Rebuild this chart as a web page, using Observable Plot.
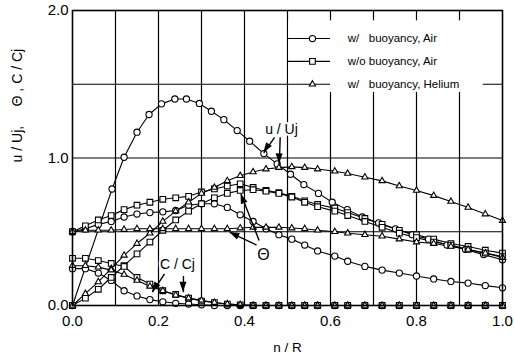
<!DOCTYPE html>
<html>
<head>
<meta charset="utf-8">
<script src="https://cdn.jsdelivr.net/npm/d3@7"></script>
<script src="https://cdn.jsdelivr.net/npm/@observablehq/plot@0.6"></script>
<style>
  body { margin: 0; background: #fff; }
  #chart { position: absolute; left: 0; top: 0; }
</style>
</head>
<body>
<div id="chart"></div>
<script>
// Radial positions n/R shared by most profiles
const nR = [0, 0.03, 0.06, 0.09, 0.12, 0.15, 0.18, 0.21, 0.24, 0.27, 0.30, 0.33, 0.36, 0.39, 0.42,
            0.45, 0.48, 0.51, 0.54, 0.57, 0.61, 0.64, 0.68, 0.72, 0.76, 0.80, 0.84, 0.88, 0.92, 0.96, 1.0];

// w/ buoyancy, Air (circles)
const airBuoyU_nR = [0, 0.092, 0.12, 0.15, 0.178, 0.207, 0.238, 0.265, 0.295, 0.323, 0.352, 0.383, 0.412, 0.445,
                     0.476, 0.507, 0.538, 0.572, 0.604, 0.639, 0.674, 0.712, 0.751, 0.79, 0.828, 0.871, 0.914, 0.956, 1.0];
const airBuoyU = [0, 0.79, 1.005, 1.175, 1.295, 1.367, 1.40, 1.40, 1.37, 1.317, 1.26, 1.186, 1.114, 1.03,
                  0.96, 0.89, 0.82, 0.76, 0.70, 0.65, 0.60, 0.56, 0.52, 0.48, 0.45, 0.41, 0.38, 0.345, 0.31];
const airBuoyTheta = [0.5, 0.52, 0.55, 0.57, 0.60, 0.62, 0.63, 0.635, 0.644, 0.68, 0.69, 0.69, 0.665, 0.615, 0.57,
                      0.52, 0.48, 0.45, 0.41, 0.37, 0.335, 0.30, 0.265, 0.24, 0.22, 0.20, 0.18, 0.163, 0.152, 0.135, 0.12];
const airBuoyC = [0.25, 0.25, 0.22, 0.17, 0.10, 0.065, 0.04, 0.025, 0.015, 0.01, 0.005, 0, 0, 0, 0,
                  0, 0, 0, 0, 0, 0, 0, 0, 0, 0, 0, 0, 0, 0, 0, 0];

// w/o buoyancy, Air (squares)
const airNoBuoyU = [0.5, 0.54, 0.58, 0.61, 0.65, 0.68, 0.70, 0.72, 0.73, 0.74, 0.77, 0.79, 0.81, 0.825, 0.80,
                    0.78, 0.765, 0.74, 0.71, 0.685, 0.66, 0.63, 0.59, 0.55, 0.51, 0.48, 0.45, 0.42, 0.40, 0.375, 0.355];
const airNoBuoyTheta = [0, 0.05, 0.11, 0.19, 0.27, 0.35, 0.43, 0.51, 0.58, 0.64, 0.69, 0.73, 0.76, 0.78, 0.785,
                        0.775, 0.76, 0.735, 0.70, 0.67, 0.64, 0.61, 0.57, 0.53, 0.49, 0.46, 0.43, 0.41, 0.38, 0.355, 0.332];
const airNoBuoyC = [0.32, 0.32, 0.305, 0.285, 0.265, 0.19, 0.145, 0.10, 0.075, 0.05, 0.03, 0.02, 0.01, 0.005, 0,
                    0, 0, 0, 0, 0, 0, 0, 0, 0, 0, 0, 0, 0, 0, 0, 0];

// w/ buoyancy, Helium (triangles)
const heliumU = [0, 0.08, 0.16, 0.25, 0.34, 0.42, 0.49, 0.57, 0.64, 0.70, 0.76, 0.80, 0.845, 0.88, 0.905,
                 0.925, 0.935, 0.94, 0.935, 0.925, 0.91, 0.895, 0.87, 0.845, 0.81, 0.78, 0.745, 0.705, 0.665, 0.62, 0.576];
const heliumTheta = [0.5, 0.51, 0.51, 0.51, 0.515, 0.52, 0.52, 0.52, 0.52, 0.52, 0.52, 0.52, 0.52, 0.525, 0.53,
                     0.53, 0.53, 0.525, 0.52, 0.51, 0.50, 0.49, 0.48, 0.47, 0.45, 0.43, 0.42, 0.40, 0.38, 0.355, 0.325];
const heliumC = [0.27, 0.27, 0.26, 0.24, 0.21, 0.17, 0.13, 0.10, 0.07, 0.05, 0.035, 0.02, 0.01, 0.005, 0,
                 0, 0, 0, 0, 0, 0, 0, 0, 0, 0, 0, 0, 0, 0, 0, 0];

// Axes
const xTicks = [0, 0.2, 0.4, 0.6, 0.8, 1.0];
const yTicks = [0, 1.0, 2.0];
const xGrid = [0.1, 0.2, 0.3, 0.4, 0.5, 0.6, 0.7, 0.8, 0.9];
const yGrid = [0.5, 1.0, 1.5];

// Legend entries
const legendNames = ["w/\u00a0\u00a0 buoyancy, Air", "w/o buoyancy, Air", "w/\u00a0\u00a0 buoyancy, Helium"];
const legendShapes = ["circle", "square", "triangle"];
const legendY = [1.81, 1.655, 1.5];

// Annotations: label and arrows (start -> tip, in data units)
const notes = [
  {text: "u / Uj", x: 0.486, y: 1.19, size: 14},
  {text: "\u0398", x: 0.444, y: 0.346, size: 16},
  {text: "C / Cj", x: 0.244, y: 0.278, size: 14}
];
const arrows = [
  {x1: 0.47, y1: 1.14, x2: 0.445, y2: 1.035},
  {x1: 0.483, y1: 1.14, x2: 0.481, y2: 0.96},
  {x1: 0.434, y1: 0.44, x2: 0.392, y2: 0.755},
  {x1: 0.428, y1: 0.41, x2: 0.366, y2: 0.495},
  {x1: 0.214, y1: 0.215, x2: 0.186, y2: 0.09},
  {x1: 0.258, y1: 0.2, x2: 0.258, y2: 0.09}
];

const series = [
  {name: "airBuoyU", shape: "circle", x: airBuoyU_nR, y: airBuoyU},
  {name: "airBuoyTheta", shape: "circle", x: nR, y: airBuoyTheta},
  {name: "airBuoyC", shape: "circle", x: nR, y: airBuoyC},
  {name: "airNoBuoyU", shape: "square", x: nR, y: airNoBuoyU},
  {name: "airNoBuoyTheta", shape: "square", x: nR, y: airNoBuoyTheta},
  {name: "airNoBuoyC", shape: "square", x: nR, y: airNoBuoyC},
  {name: "heliumU", shape: "triangle", x: nR, y: heliumU},
  {name: "heliumTheta", shape: "triangle", x: nR, y: heliumTheta},
  {name: "heliumC", shape: "triangle", x: nR, y: heliumC}
];
const rows = series.flatMap(s => s.x.map((x, i) => ({x, y: s.y[i], series: s.name, shape: s.shape})));

const legend = legendNames.map((label, i) => ({
  label, shape: legendShapes[i], y: legendY[i], x1: 0.5, x2: 0.6, xm: 0.558, tx: 0.64
}));
const legendBox = [{x1: 0.503, x2: 0.955, y1: 1.445, y2: 1.93}];

// marker radius per symbol (triangles are drawn smaller)
const markerR = {circle: 3.1, square: 3.2, triangle: 2.3};

const font = "'Liberation Sans', Arial, Helvetica, sans-serif";

const dotsFor = (data, shape, x) => Plot.dot(data.filter(d => d.shape === shape), {
  x, y: "y", symbol: () => shape, r: markerR[shape], fill: "white", stroke: "black", strokeWidth: 1.1
});

const plot = Plot.plot({
  width: 514,
  height: 360,
  marginLeft: 72,
  marginRight: 12,
  marginTop: 10,
  marginBottom: 55,
  style: {fontFamily: font, fontSize: "15px", background: "white", color: "black"},
  x: {domain: [0, 1], ticks: xTicks, tickFormat: d3.format(".1f"), tickSize: 0, tickPadding: 10, label: null},
  y: {domain: [0, 2], ticks: yTicks, tickFormat: d3.format(".1f"), tickSize: 0, tickPadding: 4, label: null},
  symbol: {domain: ["circle", "square", "triangle"], range: ["circle", "square", "triangle"]},
  marks: [
    Plot.ruleX(xGrid, {stroke: "black", strokeWidth: 1.2}),
    Plot.ruleY(yGrid, {stroke: "black", strokeWidth: 1.2}),
    // legend panel
    Plot.rect(legendBox, {x1: "x1", x2: "x2", y1: "y1", y2: "y2", fill: "white"}),
    Plot.ruleY(legend, {y: "y", x1: "x1", x2: "x2", stroke: "black", strokeWidth: 1.1}),
    ...legendShapes.map(s => dotsFor(legend, s, "xm")),
    Plot.text(legend, {x: "tx", y: "y", text: "label", textAnchor: "start", fontSize: 11.5}),
    // profiles
    Plot.line(rows, {x: "x", y: "y", z: "series", stroke: "black", strokeWidth: 1.1}),
    ...legendShapes.map(s => dotsFor(rows, s, "x")),
    // annotations
    Plot.link(arrows, {x1: "x1", y1: "y1", x2: "x2", y2: "y2", stroke: "black", strokeWidth: 1.4}),
    Plot.text(notes, {x: "x", y: "y", text: "text", fontSize: d => d.size, fill: "white", stroke: "white", strokeWidth: 4}),
    Plot.text(notes, {x: "x", y: "y", text: "text", fontSize: d => d.size, fill: "black"}),
    // axis titles
    Plot.text(["n / R"], {x: 0.5, frameAnchor: "bottom", dy: 46, fontSize: 13.5}),
    Plot.text(["u / Uj,\u00a0\u00a0\u00a0\u00a0 \u0398 , C / Cj"], {y: 0.97, frameAnchor: "left", dx: -55, rotate: -90, fontSize: 14}),
    Plot.frame({stroke: "black", strokeWidth: 1.6})
  ]
});

// filled arrowheads at the arrow tips, placed through the plot's scales
const sx = plot.scale("x"), sy = plot.scale("y");
const svg = d3.select(plot);
for (const a of arrows) {
  const px1 = sx.apply(a.x1), py1 = sy.apply(a.y1);
  const px2 = sx.apply(a.x2), py2 = sy.apply(a.y2);
  const dx = px2 - px1, dy = py2 - py1, len = Math.hypot(dx, dy);
  const ux = dx / len, uy = dy / len, L = 10, W = 3.5;
  const bx = px2 - ux * L, by = py2 - uy * L;
  svg.append("polygon")
    .attr("points", [[px2, py2], [bx - uy * W, by + ux * W], [bx + uy * W, by - ux * W]].map(p => p.join(",")).join(" "))
    .attr("fill", "black");
}

document.getElementById("chart").appendChild(plot);
</script>
</body>
</html>
